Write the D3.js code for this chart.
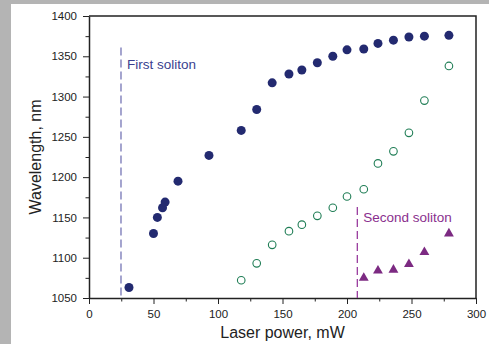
<!DOCTYPE html>
<html>
<head>
<meta charset="utf-8">
<script src="https://cdn.jsdelivr.net/npm/d3@7"></script>
<style>
  body { margin: 0; background: #b4b4b4; }
  #chart { display: block; }
  .tick text { font-family: "Liberation Sans", Arial, sans-serif; font-size: 11.5px; fill: #222; }
  .axis-title { font-family: "Liberation Sans", Arial, sans-serif; font-size: 16px; fill: #222; }
  .note { font-family: "Liberation Sans", Arial, sans-serif; font-size: 13.5px; }
</style>
</head>
<body>
<svg id="chart" width="489" height="344"></svg>
<script>
// first soliton (filled circles)
const firstPower = [31, 50, 53, 57, 59, 69, 93, 118, 130, 142, 155, 165, 177, 189, 200, 213, 224, 236, 248, 260, 279];
const firstWave = [1063, 1130, 1150, 1162, 1169, 1195, 1227, 1258, 1284, 1317, 1328, 1333, 1342, 1350, 1358, 1359, 1366, 1370, 1374, 1375, 1376];

// open circles
const openPower = [118, 130, 142, 155, 165, 177, 189, 200, 213, 224, 236, 248, 260, 279];
const openWave = [1072, 1093, 1116, 1133, 1141, 1152, 1162, 1176, 1185, 1217, 1232, 1255, 1295, 1338];

// second soliton (triangles)
const secondPower = [213, 224, 236, 248, 260, 279];
const secondWave = [1075, 1084, 1085, 1092, 1107, 1130];

// threshold markers
const thresholdNames = ["First soliton", "Second soliton"];
const thresholdPower = [24.8, 208];
const thresholdTop = [1361, 1163];

const xTicks = [0, 50, 100, 150, 200, 250, 300];
const yTicks = [1050, 1100, 1150, 1200, 1250, 1300, 1350, 1400];

const svg = d3.select("#chart");
const width = +svg.attr("width");
const height = +svg.attr("height");
const margin = { top: 16, right: 13, bottom: 46, left: 89 };

// white panel over gray background
svg.append("rect")
  .attr("x", 11).attr("y", 4)
  .attr("width", width - 11).attr("height", height - 4)
  .attr("fill", "#fff");

const x = d3.scaleLinear().domain([0, 300]).range([margin.left, width - margin.right]);
const y = d3.scaleLinear().domain([1050, 1400]).range([height - margin.bottom, margin.top]);

//Minor ticks
svg.append("g")
  .attr("transform", `translate(0,${y(1050)})`)
  .call(d3.axisBottom(x).tickValues(d3.range(25, 300, 50)).tickSize(3.5).tickFormat(""))
  .call(g => g.select(".domain").remove())
  .call(g => g.selectAll("line").attr("stroke", "#222"));
svg.append("g")
  .attr("transform", `translate(${x(0)},0)`)
  .call(d3.axisLeft(y).tickValues(d3.range(1075, 1400, 50)).tickSize(3.5).tickFormat(""))
  .call(g => g.select(".domain").remove())
  .call(g => g.selectAll("line").attr("stroke", "#222"));

//Major axes
svg.append("g")
  .attr("transform", `translate(0,${y(1050)})`)
  .call(d3.axisBottom(x).tickValues(xTicks).tickFormat(d3.format("d")).tickSize(6).tickSizeOuter(0).tickPadding(6))
  .call(g => g.select(".domain").attr("stroke", "#222").attr("stroke-width", 1.5))
  .call(g => g.selectAll("line").attr("stroke", "#222"));
svg.append("g")
  .attr("transform", `translate(${x(0)},0)`)
  .call(d3.axisLeft(y).tickValues(yTicks).tickFormat(d3.format("d")).tickSize(6).tickSizeOuter(0).tickPadding(6))
  .call(g => g.select(".domain").attr("stroke", "#222").attr("stroke-width", 1.5))
  .call(g => g.selectAll("line").attr("stroke", "#222"));

//Frame top and right
svg.append("path")
  .attr("d", `M${x(0)},${y(1400)}H${x(300)}V${y(1050)}`)
  .attr("fill", "none").attr("stroke", "#222").attr("stroke-width", 1.5);

//Axis titles
svg.append("text").attr("class", "axis-title")
  .attr("x", (x(0) + x(300)) / 2).attr("y", 338)
  .attr("text-anchor", "middle").text("Laser power, mW");
svg.append("text").attr("class", "axis-title")
  .attr("transform", `translate(41,${(y(1050) + y(1400)) / 2}) rotate(-90)`)
  .attr("text-anchor", "middle").text("Wavelength, nm");

//Threshold lines
const thColors = ["#7575b5", "#9a3c9e"];
const noteColors = ["#3a3f8f", "#8a2f8e"];
const noteDrop = [22, 15.5];
svg.selectAll("line.threshold")
  .data(thresholdPower)
  .join("line")
  .classed("threshold", true)
  .attr("x1", d => x(d)).attr("x2", d => x(d))
  .attr("y1", (d, i) => y(thresholdTop[i])).attr("y2", y(1050))
  .attr("stroke", (d, i) => thColors[i])
  .attr("stroke-width", 1.3)
  .attr("stroke-dasharray", "8,4");
svg.selectAll("text.note")
  .data(thresholdNames)
  .join("text")
  .attr("class", "note")
  .attr("x", (d, i) => x(thresholdPower[i]) + 6)
  .attr("y", (d, i) => y(thresholdTop[i]) + noteDrop[i])
  .attr("fill", (d, i) => noteColors[i])
  .text(d => d);

//Open circles
svg.append("g")
  .selectAll("circle")
  .data(openPower)
  .join("circle")
  .attr("cx", d => x(d))
  .attr("cy", (d, i) => y(openWave[i]))
  .attr("r", 3.8)
  .attr("fill", "#fff")
  .attr("stroke", "#1f7d55")
  .attr("stroke-width", 1.1);

//Filled circles
svg.append("g")
  .selectAll("circle")
  .data(firstPower)
  .join("circle")
  .attr("cx", d => x(d))
  .attr("cy", (d, i) => y(firstWave[i]))
  .attr("r", 4.5)
  .attr("fill", "#232a70");

//Triangles
const tri = d3.symbol().type(d3.symbolTriangle).size(42);
svg.append("g")
  .selectAll("path")
  .data(secondPower)
  .join("path")
  .attr("transform", (d, i) => `translate(${x(d)},${y(secondWave[i])})`)
  .attr("d", tri)
  .attr("fill", "#7c2a82");
</script>
</body>
</html>
